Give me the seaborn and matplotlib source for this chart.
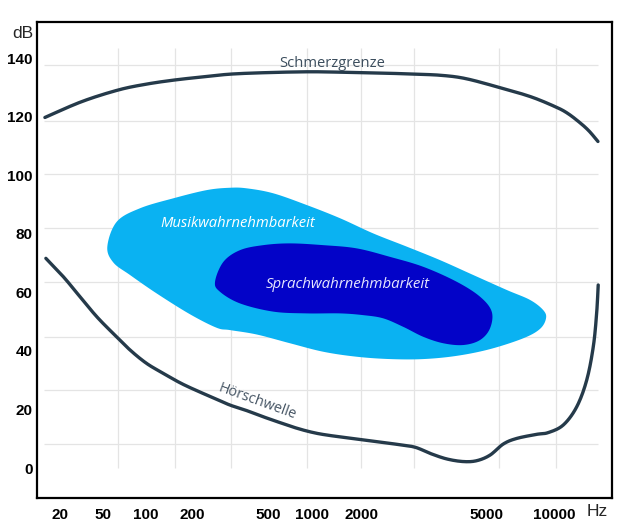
import numpy as np
import matplotlib
matplotlib.use("Agg")
import matplotlib.pyplot as plt
import seaborn as sns

# ---------------- data ----------------
tick_freqs = [20, 50, 100, 200, 500, 1000, 2000, 5000, 10000]
tick_labels = ["20", "50", "100", "200", "500", "1000", "2000", "5000", "10000"]
db_ticks = [0, 20, 40, 60, 80, 100, 120, 140]

# Schmerzgrenze (pain threshold)
pain_hz = [14.5, 31.7, 64.1, 101, 154, 231, 318, 484, 923, 1370, 1978, 2420,
           2944, 3580, 4291, 5695, 7878, 10110, 11450, 12990, 14290, 15660]
pain_db = [119.7, 125.1, 129.1, 131.1, 132.5, 133.6, 134.5, 135.0, 135.3, 135.2,
           135.0, 134.8, 134.5, 134.1, 133.0, 130.0, 126.8, 123.4, 121.2, 118.0,
           115.1, 111.5]

# Hörschwelle (hearing threshold)
threshold_hz = [14.8, 21.5, 30.6, 43.7, 59.0, 77.3, 101, 130, 167, 212, 269, 316,
                387, 472, 604, 786, 1018, 1283, 2020, 2585, 2959, 3306, 3740, 4228,
                4669, 5208, 5965, 6838, 8384, 9437, 11000, 12610, 13960, 14930,
                15450, 15700]
threshold_db = [71.6, 65.3, 58.5, 51.7, 45.9, 40.3, 35.7, 32.3, 29.1, 26.4, 23.5,
                21.5, 19.6, 17.5, 15.5, 13.6, 12.1, 11.1, 9.6, 8.1, 7.1, 5.0, 3.1,
                2.2, 2.5, 4.4, 8.2, 10.1, 11.5, 12.1, 14.7, 20.9, 30.0, 41.4, 52.8,
                62.5]

# Musikwahrnehmbarkeit (music area outline)
music_hz = [53.6, 62.4, 90.8, 151, 239, 316, 387, 544, 920, 1474, 2174, 2783, 3558,
            4551, 6174, 7831, 8966, 9218, 8670, 7313, 5208, 4026, 3146, 2460, 1858,
            1169, 707, 436, 316, 269, 194, 117.5, 77.3, 59.0]
music_db = [75.6, 84.1, 88.7, 92.1, 94.9, 95.7, 95.5, 93.8, 89.8, 85.3, 80.1, 75.6,
            71.0, 65.9, 60.8, 57.4, 53.9, 51.1, 47.5, 44.3, 40.6, 38.3, 37.2, 37.2,
            38.0, 39.7, 42.6, 45.6, 47.1, 47.9, 52.5, 59.6, 65.9, 70.2]

# Sprachwahrnehmbarkeit (speech area outline)
speech_hz = [264, 292, 357, 472, 707, 1169, 1858, 2460, 3146, 4026, 4783, 5299, 5208,
             4783, 4228, 3647, 3146, 2714, 2341, 2020, 1474, 920, 544, 357, 280]
speech_db = [63.6, 70.4, 74.4, 76.1, 76.7, 76.1, 75.0, 72.1, 68.7, 63.6, 58.5, 53.4,
             47.7, 43.7, 42.0, 42.6, 44.8, 48.2, 51.1, 52.2, 52.8, 52.8, 53.4, 56.2,
             60.2]

# faint background grid of the drawing
grid_hz = [64, 155, 320, 925, 1970, 2940, 5700, 10200]
grid_db = [8.2, 26.6, 44.7, 63.5, 81.9, 100.4, 118.5, 137.6]

# ---------------- axis scale (drawn, non-uniform frequency axis) ----------------
tick_pos = np.array([0.040, 0.1148, 0.1896, 0.2696, 0.4017, 0.4783, 0.5652, 0.7809, 0.8991])
LOGF = np.log10(np.array(tick_freqs, float))


def fwd(f):
    lf = np.log10(np.clip(np.asarray(f, float), 1e-6, None))
    p = np.interp(lf, LOGF, tick_pos)
    p = np.where(lf < LOGF[0],
                 tick_pos[0] + (lf - LOGF[0]) * (tick_pos[1] - tick_pos[0]) / (LOGF[1] - LOGF[0]), p)
    p = np.where(lf > LOGF[-1],
                 tick_pos[-1] + (lf - LOGF[-1]) * (tick_pos[-1] - tick_pos[-2]) / (LOGF[-1] - LOGF[-2]), p)
    return p


def inv(p):
    p = np.asarray(p, float)
    lf = np.interp(p, tick_pos, LOGF)
    lf = np.where(p < tick_pos[0],
                  LOGF[0] + (p - tick_pos[0]) * (LOGF[1] - LOGF[0]) / (tick_pos[1] - tick_pos[0]), lf)
    lf = np.where(p > tick_pos[-1],
                  LOGF[-1] + (p - tick_pos[-1]) * (LOGF[-1] - LOGF[-2]) / (tick_pos[-1] - tick_pos[-2]), lf)
    return 10 ** lf


def catmull(pts, closed, n=14):
    P = np.asarray(pts, float)
    if closed:
        P = np.vstack([P[-1], P, P[0], P[1]])
    else:
        P = np.vstack([P[0], P, P[-1]])
    out = []
    t = np.linspace(0, 1, n, endpoint=False)[:, None]
    for i in range(1, len(P) - 2):
        p0, p1, p2, p3 = P[i - 1], P[i], P[i + 1], P[i + 2]
        seg = 0.5 * ((2 * p1) + (-p0 + p2) * t + (2 * p0 - 5 * p1 + 4 * p2 - p3) * t ** 2
                     + (-p0 + 3 * p1 - 3 * p2 + p3) * t ** 3)
        out.append(seg)
    out.append(P[-2][None])
    return np.vstack(out)


def smooth(hz, db, closed):
    s = catmull(np.c_[fwd(hz), db], closed)
    return inv(s[:, 0]), s[:, 1]


# ---------------- figure ----------------
sns.set_style("white")
plt.rcParams["font.family"] = ["Liberation Sans", "DejaVu Sans"]

fig = plt.figure(figsize=(6.4, 5.24), dpi=100)
ax = fig.add_axes([37 / 640, 1 - 498 / 524, 575 / 640, 476 / 524])
ax.set_xscale("function", functions=(fwd, inv))
ax.set_xlim(inv(0.0), inv(1.0))
ax.set_ylim(-10.24, 152.3)

# grid
ax.vlines(grid_hz, 0, 143.4, color="#e4e4e4", lw=0.9, zorder=0)
ax.hlines(grid_db, 0.012, 0.976, transform=ax.get_yaxis_transform(),
          color="#e4e4e4", lw=0.9, zorder=0)

# areas
mx, my = smooth(music_hz, music_db, True)
ax.fill(mx, my, color="#0AB2F2", lw=0, zorder=1)
sx, sy = smooth(speech_hz, speech_db, True)
ax.fill(sx, sy, color="#0303C8", lw=0, zorder=2)

# curves
line_col = "#253a4a"
px, py = smooth(pain_hz, pain_db, False)
sns.lineplot(x=px, y=py, sort=False, estimator=None, ax=ax, color=line_col, lw=2.4, zorder=3)
tx, ty = smooth(threshold_hz, threshold_db, False)
sns.lineplot(x=tx, y=ty, sort=False, estimator=None, ax=ax, color=line_col, lw=2.4, zorder=3)

# labels inside the chart
ax.text(1319, 138.2, "Schmerzgrenze", family="Open Sans", fontsize=10.6,
        color="#3b4d5d", ha="center", va="center", zorder=4)
ax.text(348, 83.6, "Musikwahrnehmbarkeit", family="Open Sans", style="italic",
        fontsize=10.6, color="white", ha="center", va="center", zorder=4)
ax.text(1647, 62.7, "Sprachwahrnehmbarkeit", family="Open Sans", style="italic",
        fontsize=10.8, color="#e6e6ff", ha="center", va="center", zorder=4)
ax.text(440, 22.6, "Hörschwelle", family="Open Sans", fontsize=10.4,
        color="#465564", ha="center", va="center", rotation=-20,
        rotation_mode="anchor", zorder=4)

# ticks
ax.set_xticks(tick_freqs, tick_labels)
ax.xaxis.set_minor_locator(matplotlib.ticker.NullLocator())
ax.set_yticks(db_ticks, [str(v) for v in db_ticks])
ax.tick_params(axis="both", length=0, labelsize=11, labelcolor="black")
ax.tick_params(axis="x", pad=7)
ax.tick_params(axis="y", pad=3)
for lab in ax.get_xticklabels() + ax.get_yticklabels():
    lab.set_fontweight("bold")

ax.text(-0.007, 0.975, "dB", transform=ax.transAxes, ha="right", va="center",
        fontsize=12.5, clip_on=False)
ax.text(0.974, -0.0294, "Hz", transform=ax.transAxes, ha="center", va="center",
        fontsize=12.5, clip_on=False)

ax.set_xlabel("")
ax.set_ylabel("")
for sp in ax.spines.values():
    sp.set_visible(True)
    sp.set_color("black")
    sp.set_linewidth(1.6)
ax.grid(False)

fig.savefig("out.png", dpi=100)
